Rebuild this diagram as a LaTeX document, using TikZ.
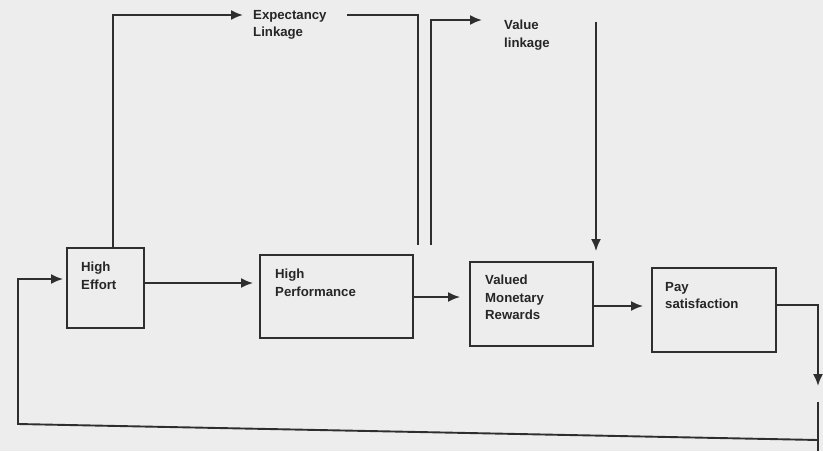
\documentclass[tikz,border=0pt]{standalone}
\usepackage{fontspec}
\setmainfont{Liberation Sans}
\usetikzlibrary{arrows.meta}
\begin{document}
\begin{tikzpicture}[x=1pt,y=-1pt,
  ink/.style={draw=black!82,line width=1.9pt},
  box/.style={ink,fill=none,inner sep=0pt},
  lbl/.style={anchor=north west,align=left,inner sep=0pt,font=\fontsize{13.2}{17.5}\selectfont\bfseries,text=black!85},
  arr/.style={ink,-{Latex[length=12pt,width=10pt]}},
  line/.style={ink}]
  % page
  \fill[black!7] (0,0) rectangle (823,451);
  \useasboundingbox (0,0) rectangle (823,451);

  % boxes
  \node[box,minimum width=77pt,minimum height=80pt] (effort) at (105.5,288) {};
  \node[box,minimum width=153pt,minimum height=83pt] (perf) at (336.5,296.5) {};
  \node[box,minimum width=123pt,minimum height=84pt] (rew) at (531.5,304) {};
  \node[box,minimum width=124pt,minimum height=84pt] (pay) at (714,310) {};

  % box texts
  \node[lbl] (teffort) at (81,262) {High\\Effort};
  \node[lbl] (tperf) at (275,269) {High\\Performance};
  \node[lbl] (trew) at (485,275) {Valued\\Monetary\\Rewards};
  \node[lbl] (tpay) at (665,282) {Pay\\satisfaction};

  % linkage labels
  \node[lbl] (texp) at (253,10) {Expectancy\\Linkage};
  \node[lbl] (tval) at (504,20) {Value\\linkage};

  % main chain
  \draw[arr,shorten >=6pt] (effort.east |- 0,283) -- (perf.west |- 0,283);
  \draw[arr,shorten >=9pt] (perf.east |- 0,297) -- (rew.west |- 0,297);
  \draw[arr,shorten >=8pt] (rew.east |- 0,306) -- (pay.west |- 0,306);

  % expectancy linkage
  \coordinate (e1) at (113,15);
  \coordinate (e2) at (347,15);
  \coordinate (e3) at (418,15);
  \coordinate (e4) at (418,245);
  \draw[arr,shorten >=10pt] (effort.north -| e1) -- (e1) -- (texp.west |- e1);
  \draw[line] (e2) -- (e3) -- (e4);

  % value linkage
  \coordinate (v1) at (431,245);
  \coordinate (v2) at (431,20);
  \draw[arr,shorten >=22pt] (v1) -- (v2) -- (tval.west |- v2);

  % drop onto rewards
  \coordinate (d1) at (596,22);
  \draw[arr,shorten >=10pt] (d1) -- (d1 |- rew.north);

  % feedback loop
  \coordinate (f1) at (818,305);
  \coordinate (f2) at (818,386);
  \coordinate (f3) at (818,402);
  \coordinate (f4) at (818,440);
  \coordinate (f5) at (18,424);
  \coordinate (f6) at (18,279);
  \draw[arr] (pay.east |- f1) -- (f1) -- (f2);
  \draw[line] (818,451) -- (f3);
  \draw[arr,shorten >=3pt] (f4) -- (f5) -- (f6) -- (effort.west |- f6);
\end{tikzpicture}
\end{document}
